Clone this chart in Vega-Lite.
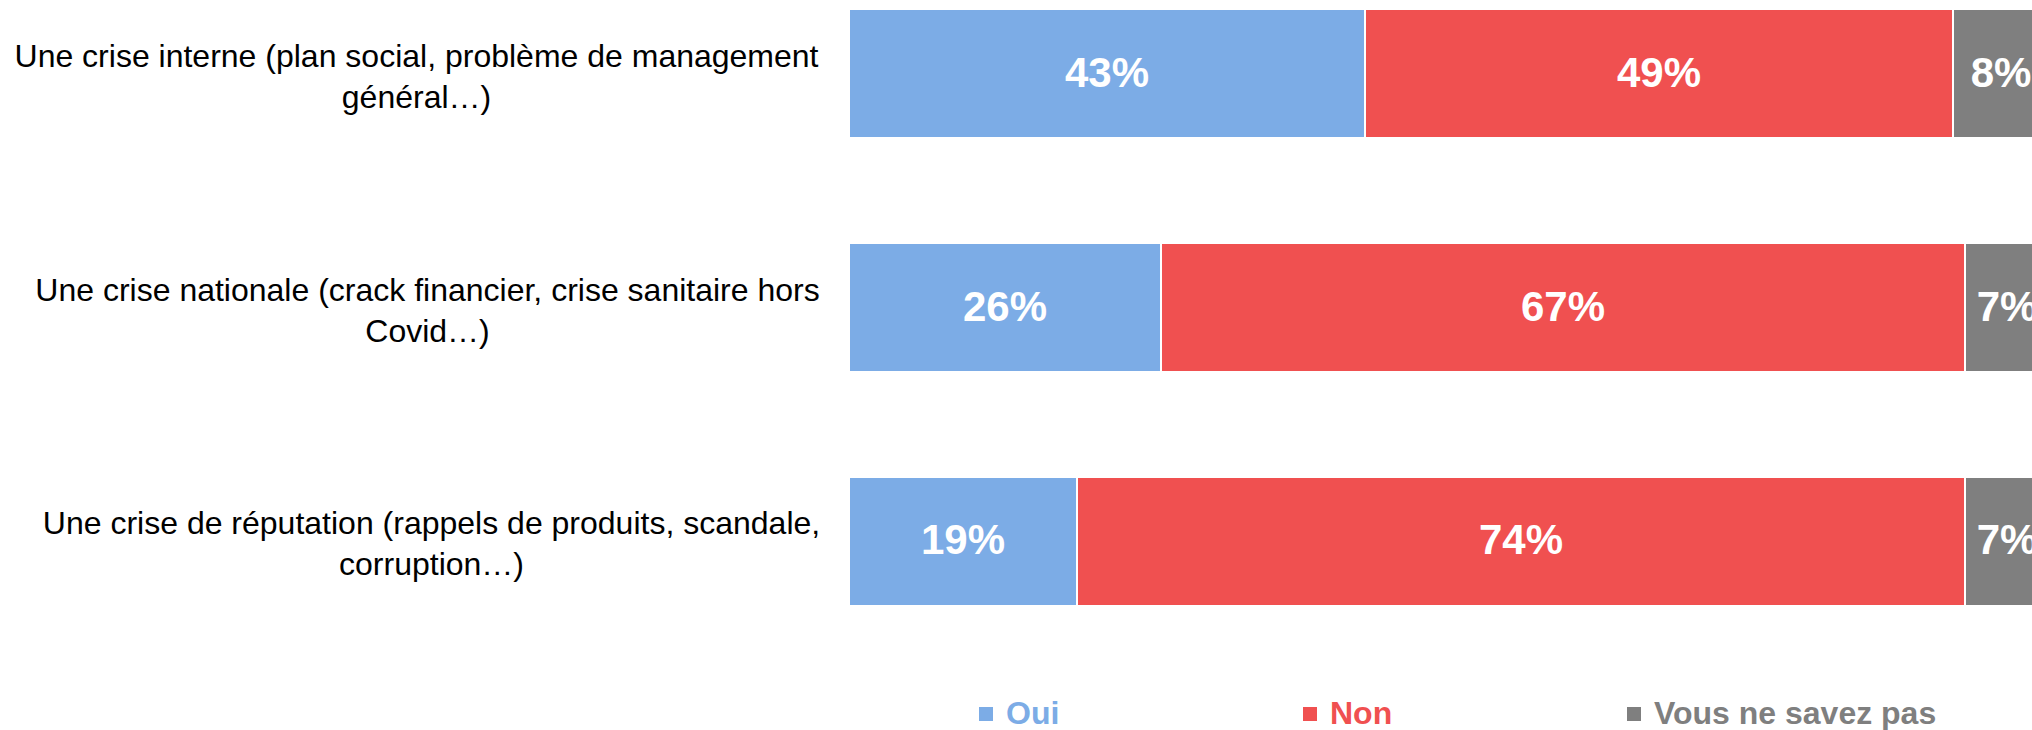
{
  "$schema": "https://vega.github.io/schema/vega-lite/v6.json",
  "autosize": {"type": "none"},
  "padding": {"left": 849, "top": 0, "right": 0, "bottom": 115},
  "width": 1183,
  "height": 615,
  "background": "white",
  "config": {"view": {"stroke": null}, "font": "Liberation Sans"},
  "data": {
    "values": [
      {"crise": "Une crise interne (plan social, problème de management\ngénéral…)", "reponse": "Oui", "rang": 1, "part": 0.43},
      {"crise": "Une crise interne (plan social, problème de management\ngénéral…)", "reponse": "Non", "rang": 2, "part": 0.49},
      {"crise": "Une crise interne (plan social, problème de management\ngénéral…)", "reponse": "Vous ne savez pas", "rang": 3, "part": 0.08},
      {"crise": "Une crise nationale (crack financier, crise sanitaire hors\nCovid…)", "reponse": "Oui", "rang": 1, "part": 0.26},
      {"crise": "Une crise nationale (crack financier, crise sanitaire hors\nCovid…)", "reponse": "Non", "rang": 2, "part": 0.67},
      {"crise": "Une crise nationale (crack financier, crise sanitaire hors\nCovid…)", "reponse": "Vous ne savez pas", "rang": 3, "part": 0.07},
      {"crise": "Une crise de réputation (rappels de produits, scandale,\ncorruption…)", "reponse": "Oui", "rang": 1, "part": 0.19},
      {"crise": "Une crise de réputation (rappels de produits, scandale,\ncorruption…)", "reponse": "Non", "rang": 2, "part": 0.74},
      {"crise": "Une crise de réputation (rappels de produits, scandale,\ncorruption…)", "reponse": "Vous ne savez pas", "rang": 3, "part": 0.07}
    ]
  },
  "encoding": {
    "y": {
      "field": "crise",
      "type": "nominal",
      "sort": null,
      "scale": {"paddingInner": 0.4487, "paddingOuter": 0.0385},
      "axis": {
        "title": null,
        "domain": false,
        "ticks": false,
        "tickSize": 0,
        "labelFont": "Liberation Sans",
        "labelFontSize": 32,
        "labelColor": "#000000",
        "labelAlign": "center",
        "labelBaseline": "middle",
        "labelLineHeight": 41,
        "labelOffset": -17,
        "labelLimit": 1200,
        "labelExpr": "split(datum.value, '\\n')",
        "labelPadding": {
          "condition": [
            {"test": "indexof(datum.value, 'interne') >= 0", "value": 433},
            {"test": "indexof(datum.value, 'nationale') >= 0", "value": 422}
          ],
          "value": 418
        }
      }
    },
    "x": {
      "field": "part",
      "type": "quantitative",
      "stack": "zero",
      "scale": {"domain": [0, 1], "range": [0, 1200], "nice": false},
      "axis": null
    },
    "order": {"field": "rang", "type": "quantitative", "sort": "ascending"}
  },
  "layer": [
    {
      "mark": {"type": "bar", "stroke": "white", "strokeWidth": 2, "clip": true},
      "encoding": {
        "color": {
          "field": "reponse",
          "type": "nominal",
          "sort": ["Oui", "Non", "Vous ne savez pas"],
          "scale": {"domain": ["Oui", "Non", "Vous ne savez pas"], "range": ["#7CACE6", "#F05050", "#7F7F7F"]},
          "legend": {
            "title": null,
            "orient": "none",
            "legendX": 121,
            "legendY": 698,
            "direction": "horizontal",
            "columns": 3,
            "gridAlign": "all",
            "columnPadding": 5,
            "padding": 0,
            "symbolType": "square",
            "symbolSize": 196,
            "symbolStrokeWidth": 0,
            "labelFont": "Liberation Sans",
            "labelFontSize": 32,
            "labelFontWeight": "bold",
            "labelLimit": 500,
            "labelOffset": 4,
            "labelColor": {"expr": "datum.value === 'Oui' ? '#7CACE6' : datum.value === 'Non' ? '#F05050' : '#7F7F7F'"}
          }
        }
      }
    },
    {
      "mark": {"type": "text", "fontSize": 42, "fontWeight": "bold", "font": "Liberation Sans", "baseline": "middle", "align": "center", "clip": true},
      "encoding": {
        "x": {"field": "part", "type": "quantitative", "stack": "zero", "bandPosition": 0.5},
        "detail": {"field": "reponse", "type": "nominal"},
        "color": {"value": "white"},
        "text": {"field": "part", "type": "quantitative", "format": ".0%"}
      }
    }
  ]
}
